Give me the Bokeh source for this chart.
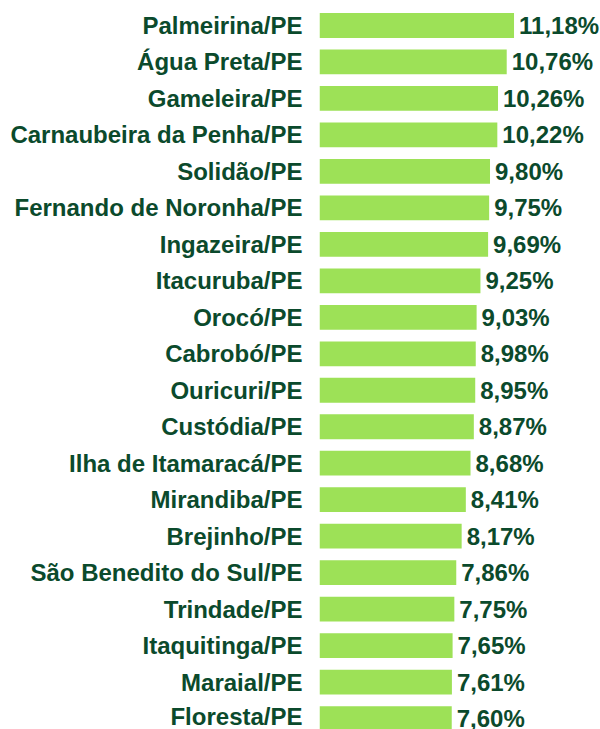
from bokeh.plotting import figure
from bokeh.models import Range1d, FixedTicker, ColumnDataSource
from bokeh.embed import file_html
from bokeh.resources import INLINE
from bokeh.core.properties import value

municipios = [
    "Palmeirina/PE", "Água Preta/PE", "Gameleira/PE", "Carnaubeira da Penha/PE",
    "Solidão/PE", "Fernando de Noronha/PE", "Ingazeira/PE", "Itacuruba/PE",
    "Orocó/PE", "Cabrobó/PE", "Ouricuri/PE", "Custódia/PE",
    "Ilha de Itamaracá/PE", "Mirandiba/PE", "Brejinho/PE", "São Benedito do Sul/PE",
    "Trindade/PE", "Itaquitinga/PE", "Maraial/PE", "Floresta/PE",
]
taxas = [11.18, 10.76, 10.26, 10.22, 9.80, 9.75, 9.69, 9.25, 9.03, 8.98,
         8.95, 8.87, 8.68, 8.41, 8.17, 7.86, 7.75, 7.65, 7.61, 7.60]

BAR = "#9de157"
TXT = "#0b4a2c"
FONT = "Liberation Sans"

idx = list(range(len(municipios)))
rotulos = [f"{v:.2f}".replace(".", ",") + "%" for v in taxas]
src = ColumnDataSource(dict(y=idx, v=taxas, lab=rotulos))

p = figure(width=600, height=729, output_backend="svg", toolbar_location=None,
           x_range=Range1d(0, 16.15), y_range=Range1d(19.30, -0.685),
           min_border_left=319, min_border_right=0, min_border_top=0, min_border_bottom=0)

p.hbar(y="y", right="v", left=0, height=0.68, source=src, color=BAR, line_color=None)
p.text(x="v", y="y", text="lab", source=src, x_offset=5, text_baseline="middle",
       text_align="left", text_font=value(FONT), text_font_style="bold",
       text_font_size="24px", text_color=TXT)

p.xaxis.visible = False
p.xgrid.visible = False
p.ygrid.visible = False
p.outline_line_color = None

ya = p.yaxis[0]
ya.ticker = FixedTicker(ticks=idx)
ya.major_label_overrides = {i: n for i, n in enumerate(municipios)}
ya.axis_line_color = None
ya.major_tick_line_color = None
ya.minor_tick_line_color = None
ya.major_tick_out = 0
ya.major_label_standoff = 17
ya.major_label_text_font = FONT
ya.major_label_text_font_style = "bold"
ya.major_label_text_font_size = "24px"
ya.major_label_text_color = TXT

open("out.html", "w").write(file_html(p, INLINE))
